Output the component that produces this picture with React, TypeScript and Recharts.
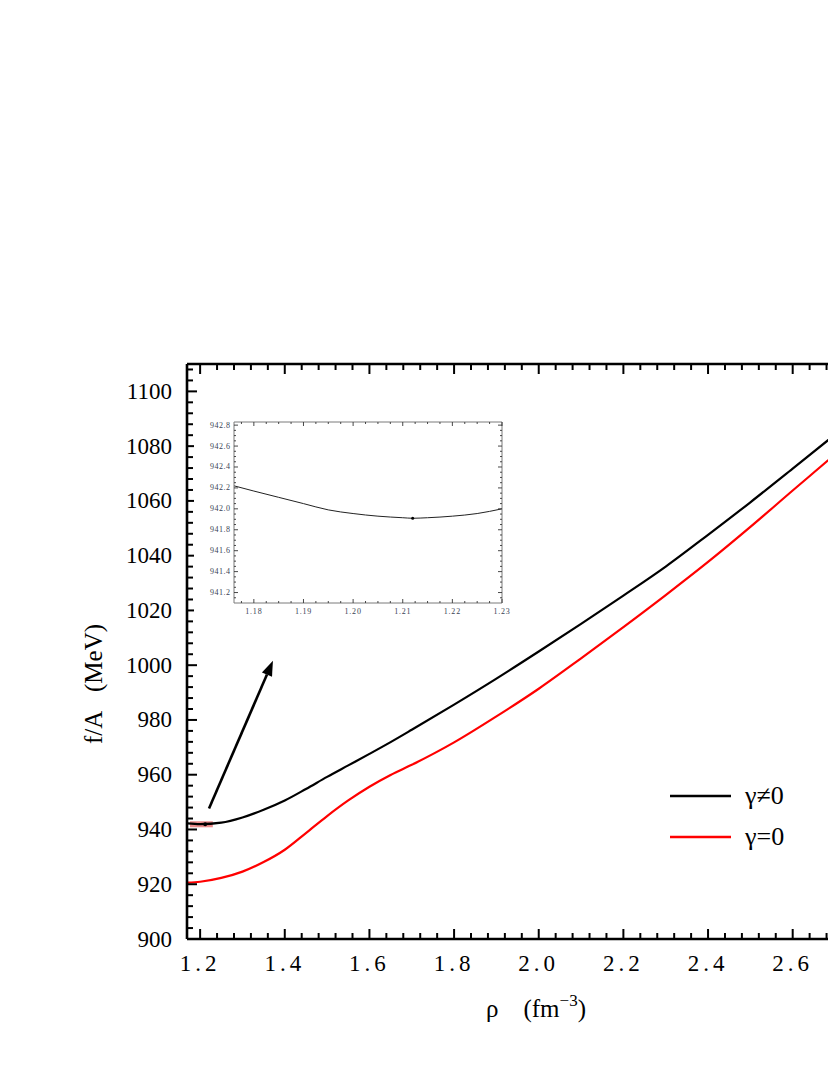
import {
  Legend,
  Line,
  LineChart,
  ReferenceArea,
  ReferenceDot,
  ReferenceLine,
  XAxis,
  YAxis
} from 'recharts'

// main curves
const rho = [1.17, 1.2, 1.25, 1.3, 1.35, 1.4, 1.45, 1.5, 1.55, 1.6, 1.65, 1.7, 1.8, 1.9, 2.0, 2.1, 2.2, 2.3, 2.4, 2.5, 2.6, 2.7, 2.72]
const fGammaNonZero = [942.25, 941.95, 942.5, 944.4, 947.2, 950.6, 954.8, 959.2, 963.4, 967.6, 971.9, 976.4, 985.6, 995.1, 1005.0, 1015.1, 1025.4, 1036.0, 1047.6, 1059.5, 1071.8, 1084.2, 1086.7]
const fGammaZero = [920.6, 920.9, 922.3, 924.6, 928.1, 932.6, 938.7, 944.9, 950.6, 955.6, 959.9, 963.6, 971.8, 981.3, 991.4, 1002.5, 1013.9, 1025.6, 1037.7, 1050.5, 1063.8, 1077.0, 1079.7]

// zoomed-in inset (γ≠0 near its minimum)
const insetRho = [1.176, 1.18, 1.185, 1.19, 1.195, 1.2, 1.205, 1.21, 1.212, 1.215, 1.22, 1.225, 1.23]
const insetF = [942.22, 942.17, 942.11, 942.05, 941.99, 941.955, 941.93, 941.915, 941.91, 941.915, 941.93, 941.955, 942.0]
const minPoint = { rho: 1.212, f: 941.91 }

const legendOrder = ['γ≠0', 'γ=0']

const xTicks = [1.2, 1.4, 1.6, 1.8, 2.0, 2.2, 2.4, 2.6]
const yTicks = [900, 920, 940, 960, 980, 1000, 1020, 1040, 1060, 1080, 1100]
const insetXTicks = [1.18, 1.19, 1.2, 1.21, 1.22, 1.23]
const insetYTicks = [941.2, 941.4, 941.6, 941.8, 942.0, 942.2, 942.4, 942.6, 942.8]

const steps = (from: number, to: number, step: number, digits: number) => {
  const out: number[] = []
  const n = Math.round((to - from) / step)
  for (let i = 0; i <= n; i++) out.push(+(from + i * step).toFixed(digits))
  return out
}
const xAll = steps(1.2, 2.96, 0.04, 2)
const yAll = steps(900, 1108, 4, 0)
const insetXAll = steps(1.1775, 1.23, 0.0025, 4)
const insetYAll = steps(941.15, 942.8, 0.05, 2)

const data = rho.map((r, i) => ({ rho: r, nonzero: fGammaNonZero[i], zero: fGammaZero[i] }))
const insetData = insetRho.map((r, i) => ({ rho: r, f: insetF[i] }))

const FONT = '"Liberation Serif", "DejaVu Serif", serif'

type Side = 'bottom' | 'top' | 'left' | 'right'
type TickOpts = {
  side: Side
  majors: number[]
  major: number
  minor: number
  width: number
  color: string
  label?: (v: number) => string
  gap?: number
  fontSize?: number
  labelColor?: string
  spacing?: number
}

// inward ticks (major/minor) drawn at the axis' own tick coordinates
const makeTick = (o: TickOpts) => (props: any) => {
  const { x, y, payload } = props
  const v = payload.value as number
  const isMajor = o.majors.some(m => Math.abs(m - v) < 1e-6)
  const len = isMajor ? o.major : o.minor
  let line
  if (o.side === 'bottom') line = { x1: x, x2: x, y1: y, y2: y - len }
  else if (o.side === 'top') line = { x1: x, x2: x, y1: y, y2: y + len }
  else if (o.side === 'left') line = { x1: x, x2: x + len, y1: y, y2: y }
  else line = { x1: x, x2: x - len, y1: y, y2: y }
  const showLabel = isMajor && o.label
  return (
    <g>
      <line {...line} stroke={o.color} strokeWidth={o.width} />
      {showLabel && o.side === 'bottom' && (
        <text
          x={x}
          y={y + (o.gap || 0)}
          textAnchor="middle"
          dominantBaseline="central"
          fontFamily={FONT}
          fontSize={o.fontSize}
          fill={o.labelColor}
          letterSpacing={o.spacing}
        >
          {o.label!(v)}
        </text>
      )}
      {showLabel && o.side === 'left' && (
        <text
          x={x - (o.gap || 0)}
          y={y}
          textAnchor="end"
          dominantBaseline="central"
          fontFamily={FONT}
          fontSize={o.fontSize}
          fill={o.labelColor}
          letterSpacing={o.spacing}
        >
          {o.label!(v)}
        </text>
      )}
    </g>
  )
}

const Arrow = (props: any) => {
  const { x1, y1, x2, y2 } = props
  const dx = x2 - x1
  const dy = y2 - y1
  const len = Math.hypot(dx, dy)
  const ux = dx / len
  const uy = dy / len
  const bx = x2 - ux * 15
  const by = y2 - uy * 15
  return (
    <g>
      <line x1={x1} y1={y1} x2={bx} y2={by} stroke="#000" strokeWidth={2.6} />
      <polygon
        points={`${x2},${y2} ${bx - uy * 5.5},${by + ux * 5.5} ${bx + uy * 5.5},${by - ux * 5.5}`}
        fill="#000"
      />
    </g>
  )
}

const LegendBox = ({ payload }: any) => {
  const items = [...(payload || [])].sort(
    (a: any, b: any) => legendOrder.indexOf(a.value) - legendOrder.indexOf(b.value)
  )
  return (
    <div style={{ fontFamily: FONT, fontSize: 26, color: '#000' }}>
      {items.map((p: any) => (
        <div key={p.value} style={{ display: 'flex', alignItems: 'center', height: 41 }}>
          <svg width={61} height={4} style={{ marginRight: 14 }}>
            <line x1={0} y1={2} x2={61} y2={2} stroke={p.color} strokeWidth={2.5} />
          </svg>
          <span>{p.value}</span>
        </div>
      ))}
    </div>
  )
}

const XTitle = () => (
  <text x={536} y={1017} textAnchor="middle" fontFamily={FONT} fontSize={25} fill="#000">
    ρ{'\u00a0\u00a0\u00a0\u00a0'}(fm
    <tspan dy={-11} fontSize={17}>−3</tspan>
    <tspan dy={11}>)</tspan>
  </text>
)

const YTitle = () => (
  <text
    x={93}
    y={684}
    transform="rotate(-90 93 684)"
    textAnchor="middle"
    dominantBaseline="central"
    fontFamily={FONT}
    fontSize={25}
    fill="#000"
  >
    f/A{'\u00a0\u00a0\u00a0'}(MeV)
  </text>
)

const frame = { stroke: '#000', strokeWidth: 2.6 }
const insetFrame = { stroke: '#7a7a7a', strokeWidth: 1 }

const mainTick = { major: 10, minor: 6, width: 2, color: '#000' }
const insetTick = { major: 4, minor: 2, width: 0.9, color: '#333' }

export default function App() {
  return (
    <div style={{ position: 'absolute', left: 0, top: 0, width: 828, height: 1072, overflow: 'hidden', background: '#fff' }}>
      <div style={{ position: 'relative', width: 1000, height: 1072 }}>
        <LineChart
          width={1000}
          height={1072}
          data={data}
          margin={{ top: 354, right: 38, bottom: 93, left: 127 }}
        >
          <XAxis
            xAxisId="x"
            dataKey="rho"
            type="number"
            domain={[1.169, 3.0]}
            allowDataOverflow
            ticks={xAll}
            interval={0}
            height={40}
            tickSize={0}
            tickMargin={0}
            axisLine={frame}
            tickLine={false}
            tick={makeTick({
              side: 'bottom',
              majors: xTicks,
              ...mainTick,
              label: v => v.toFixed(1),
              gap: 24,
              fontSize: 23,
              labelColor: '#000',
              spacing: 4
            })}
            label={{ content: XTitle }}
          />
          <XAxis
            xAxisId="xTop"
            dataKey="rho"
            orientation="top"
            type="number"
            domain={[1.169, 3.0]}
            allowDataOverflow
            ticks={xAll}
            interval={0}
            height={10}
            tickSize={0}
            tickMargin={0}
            axisLine={frame}
            tickLine={false}
            tick={makeTick({ side: 'top', majors: xTicks, ...mainTick })}
          />
          <YAxis
            yAxisId="y"
            type="number"
            domain={[900, 1110]}
            allowDataOverflow
            ticks={yAll}
            interval={0}
            width={60}
            tickSize={0}
            tickMargin={0}
            axisLine={frame}
            tickLine={false}
            tick={makeTick({
              side: 'left',
              majors: yTicks,
              ...mainTick,
              label: v => String(v),
              gap: 15,
              fontSize: 23,
              labelColor: '#000'
            })}
            label={{ content: YTitle }}
          />
          <ReferenceArea
            xAxisId="x"
            yAxisId="y"
            x1={1.176}
            x2={1.23}
            y1={940.8}
            y2={943.0}
            fill="#e25a5a"
            fillOpacity={0.7}
            stroke="none"
          />
          <Line
            xAxisId="x"
            yAxisId="y"
            dataKey="nonzero"
            name="γ≠0"
            type="monotone"
            stroke="#000"
            strokeWidth={2.2}
            dot={false}
            isAnimationActive={false}
          />
          <Line
            xAxisId="x"
            yAxisId="y"
            dataKey="zero"
            name="γ=0"
            type="monotone"
            stroke="#ff0000"
            strokeWidth={2.2}
            dot={false}
            isAnimationActive={false}
          />
          <ReferenceDot
            xAxisId="x"
            yAxisId="y"
            x={minPoint.rho}
            y={minPoint.f}
            r={2}
            fill="#000"
            stroke="none"
          />
          <ReferenceLine
            xAxisId="x"
            yAxisId="y"
            segment={[{ x: 1.221, y: 947.7 }, { x: 1.372, y: 1001.6 }]}
            shape={Arrow}
          />
          <Legend
            layout="vertical"
            align="center"
            verticalAlign="middle"
            content={LegendBox}
            wrapperStyle={{ left: 670, top: 775, width: 150 }}
          />
        </LineChart>

        <div style={{ position: 'absolute', left: 194, top: 412, background: '#fff' }}>
          <LineChart
            width={318}
            height={211}
            data={insetData}
            margin={{ top: 9, right: 9, bottom: 0, left: 0 }}
          >
            <XAxis
              xAxisId="ix"
              dataKey="rho"
              type="number"
              domain={[1.176, 1.23]}
              allowDataOverflow
              ticks={insetXAll}
              interval={0}
              height={20}
              tickSize={0}
              tickMargin={0}
              axisLine={insetFrame}
              tickLine={false}
              tick={makeTick({
                side: 'bottom',
                majors: insetXTicks,
                ...insetTick,
                label: v => v.toFixed(2),
                gap: 8,
                fontSize: 8,
                labelColor: '#3a3f55',
                spacing: 0.8
              })}
            />
            <XAxis
              xAxisId="ixTop"
              dataKey="rho"
              orientation="top"
              type="number"
              domain={[1.176, 1.23]}
              allowDataOverflow
              ticks={insetXAll}
              interval={0}
              height={1}
              tickSize={0}
              tickMargin={0}
              axisLine={insetFrame}
              tickLine={false}
              tick={makeTick({ side: 'top', majors: insetXTicks, ...insetTick })}
            />
            <YAxis
              yAxisId="iy"
              type="number"
              domain={[941.1, 942.83]}
              allowDataOverflow
              ticks={insetYAll}
              interval={0}
              width={40}
              tickSize={0}
              tickMargin={0}
              axisLine={insetFrame}
              tickLine={false}
              tick={makeTick({
                side: 'left',
                majors: insetYTicks,
                ...insetTick,
                label: v => v.toFixed(1),
                gap: 3.5,
                fontSize: 8,
                labelColor: '#3a3f55',
                spacing: 0.5
              })}
            />
            <YAxis
              yAxisId="iyRight"
              orientation="right"
              type="number"
              domain={[941.1, 942.83]}
              allowDataOverflow
              ticks={insetYAll}
              interval={0}
              width={1}
              tickSize={0}
              tickMargin={0}
              axisLine={insetFrame}
              tickLine={false}
              tick={makeTick({ side: 'right', majors: insetYTicks, ...insetTick })}
            />
            <Line
              xAxisId="ix"
              yAxisId="iy"
              dataKey="f"
              type="monotone"
              stroke="#222"
              strokeWidth={1}
              dot={false}
              isAnimationActive={false}
            />
            <ReferenceDot
              xAxisId="ix"
              yAxisId="iy"
              x={minPoint.rho}
              y={minPoint.f}
              r={1.5}
              fill="#000"
              stroke="none"
            />
          </LineChart>
        </div>
      </div>
    </div>
  )
}
